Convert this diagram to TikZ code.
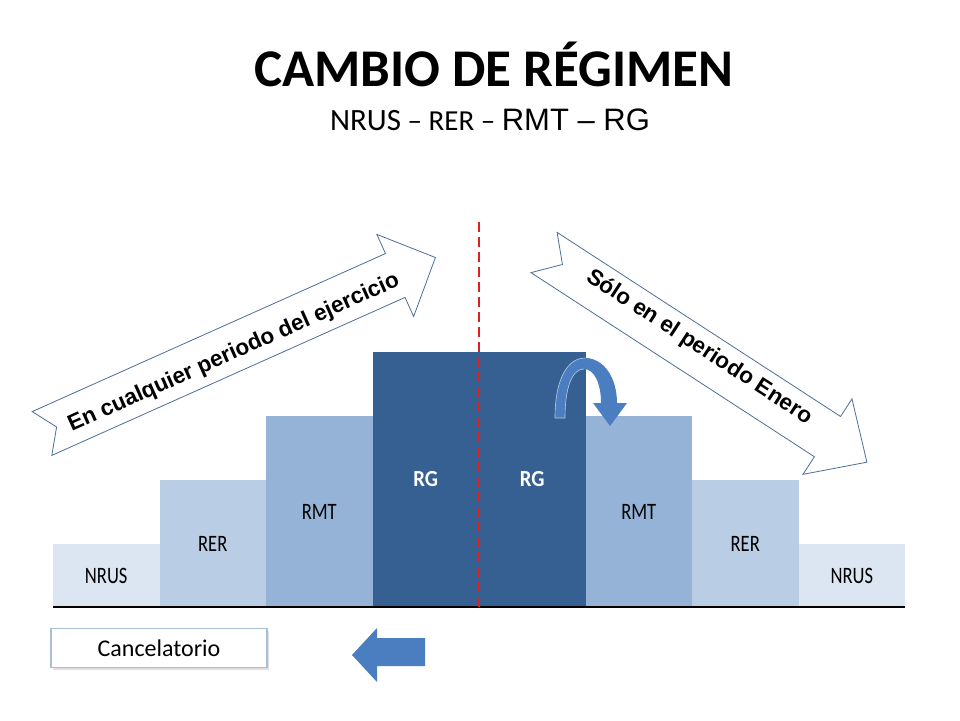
\documentclass[tikz,border=0pt]{standalone}
\usepackage{fontspec}
\usepackage{graphicx}
\setmainfont{Carlito}
\newfontfamily\arialf{Liberation Sans}
\usetikzlibrary{shadows}
\definecolor{nrusc}{HTML}{DCE6F2}
\definecolor{rerc}{HTML}{B9CDE5}
\definecolor{rmtc}{HTML}{95B3D7}
\definecolor{rgc}{HTML}{376092}
\definecolor{arrowc}{HTML}{4E6E98}
\definecolor{bluec}{HTML}{4A7EC0}
\definecolor{boxc}{HTML}{A9BEDA}
\definecolor{dashc}{HTML}{E02020}
\newcommand{\sqzlabel}[1]{\scalebox{0.79}[1]{#1}}
\begin{document}
\begin{tikzpicture}[x=1pt,y=-1pt,
  bar/.style={draw=none,inner sep=0pt,minimum width=106.5pt,font=\fontsize{23.5}{26}\selectfont},
  rgbar/.style={bar,fill=rgc,text=white,font=\fontsize{23}{26}\selectfont\bfseries},
  bigarrow/.style={draw=arrowc,line width=0.8pt,fill=white},
  arrowtext/.style={font=\arialf\bfseries\fontsize{22.5}{24}\selectfont,inner sep=0pt}]
\useasboundingbox (0,0) rectangle (960,720);
\fill[white] (0,0) rectangle (960,720);

% title
\node[anchor=base,inner sep=0pt,font=\bfseries\fontsize{53}{58}\selectfont] (title) at (494,86) {CAMBIO DE RÉGIMEN};
\node[anchor=base,inner sep=0pt] (subtitle) at (490,130) {{\fontsize{31}{34}\selectfont NRUS}{\fontsize{29}{34}\selectfont{} – RER – }{\arialf\fontsize{31}{34}\selectfont RMT – RG}};

% bars
\node[bar,fill=nrusc,minimum height=63pt] (l1) at (106.25,575.5) {\sqzlabel{NRUS}};
\node[bar,fill=rerc,minimum height=127pt] (l2) at (212.75,543.5) {\sqzlabel{RER}};
\node[bar,fill=rmtc,minimum height=191pt] (l3) at (319.25,511.5) {\sqzlabel{RMT}};
\node[rgbar,minimum height=255pt] (l4) at (425.75,479.5) {\scalebox{0.9}[1]{RG}};
\node[rgbar,minimum height=255pt] (r4) at (532.25,479.5) {\scalebox{0.9}[1]{RG}};
\node[bar,fill=rmtc,minimum height=191pt] (r3) at (638.75,511.5) {\sqzlabel{RMT}};
\node[bar,fill=rerc,minimum height=127pt] (r2) at (745.25,543.5) {\sqzlabel{RER}};
\node[bar,fill=nrusc,minimum height=63pt] (r1) at (851.75,575.5) {\sqzlabel{NRUS}};

\draw[line width=2pt] (l1.south west) -- (r1.south east);

% dashed divider
\coordinate (dtop) at (479,222);
\coordinate (dbot) at (479,610);
\draw[dashc,line width=1.6pt,dash pattern=on 10pt off 5pt] (dtop) -- (dbot);

% left big arrow
\begin{scope}[shift={(42,433.5)},rotate=24.1]
  \draw[bigarrow] (0,-24) -- (387,-24) -- (387,-45) -- (431,0) -- (387,45) -- (387,24) -- (0,24) -- (16,0) -- cycle;
  \node[arrowtext,rotate=24.1] (ltext) at (208,5) {En cualquier periodo del ejercicio};
\end{scope}

% right big arrow
\begin{scope}[shift={(544,252.5)},rotate=-33]
  \draw[bigarrow] (0,-24) -- (338,-24) -- (338,-45) -- (385,0) -- (338,45) -- (338,24) -- (0,24) -- (22,0) -- cycle;
  \node[arrowtext,rotate=-33] (rtext) at (182,-5) {Sólo en el periodo Enero};
\end{scope}

% curved arrow
\fill[bluec] (555,418) .. controls (555,378) and (568,358) .. (585,358) .. controls (604,358) and (617,378) .. (617,403) -- (627,403) -- (610,426) -- (593,403) -- (601,403) .. controls (601,383) and (594,369) .. (584,369) .. controls (573,369) and (565,385) .. (565,418) -- cycle;
\draw[white!60!bluec,line width=0.6pt] (555,418) .. controls (555,378) and (568,358) .. (585,358);
\draw[white!60!bluec,line width=0.6pt] (584,369) .. controls (573,369) and (565,385) .. (565,418) -- (555,418);

% cancelatorio box
\node[draw=boxc,line width=1.5pt,fill=white,minimum width=216pt,minimum height=39pt,inner sep=0pt,
  font=\fontsize{24}{26}\selectfont,drop shadow={opacity=0.25,shadow xshift=2pt,shadow yshift=-2pt}] (cancel) at (159,648) {Cancelatorio};

% blue left arrow
\fill[bluec] (352,655) -- (377,628) -- (377,638) -- (425,638) -- (425,666) -- (377,666) -- (377,682) -- cycle;
\end{tikzpicture}
\end{document}
